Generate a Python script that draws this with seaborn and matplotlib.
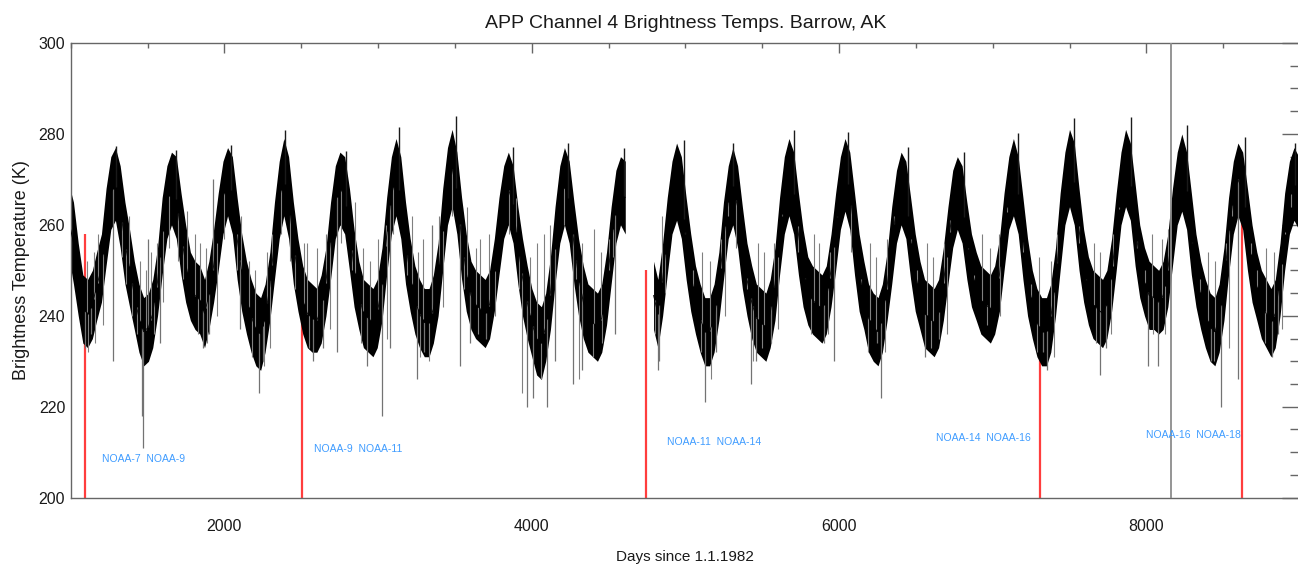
import numpy as np
import pandas as pd
import seaborn as sns
import matplotlib.pyplot as plt
from matplotlib.ticker import MultipleLocator

# monthly envelope of the dense daily Ch4 band, Sep 1984 .. Sep 2006
env_hi = [
    269, 265, 256, 249,                                          # 1984 Sep-Dec
    248, 250, 254, 258, 268, 275, 277, 273, 265, 259, 252, 247,  # 1985
    244, 245, 248, 255, 266, 273, 276, 275, 267, 260, 254, 252,  # 1986
    251, 248, 252, 259, 267, 274, 277, 275, 266, 258, 252, 248,  # 1987
    245, 244, 247, 254, 265, 274, 279, 275, 265, 257, 251, 248,  # 1988
    247, 246, 249, 255, 265, 273, 276, 275, 268, 259, 252, 248,  # 1989
    247, 246, 248, 255, 266, 275, 279, 275, 265, 257, 251, 248,  # 1990
    246, 246, 249, 256, 268, 277, 281, 276, 266, 258, 252, 250,  # 1991
    249, 248, 250, 257, 266, 273, 276, 273, 264, 257, 251, 246,  # 1992
    243, 242, 245, 253, 264, 273, 277, 274, 265, 257, 251, 247,  # 1993
    246, 245, 247, 254, 264, 272, 275, 274, np.nan, np.nan, np.nan, np.nan,  # 1994
    np.nan, 252, 248, 256, 266, 274, 278, 275, 266, 258, 251, 247,  # 1995
    244, 244, 247, 254, 265, 273, 277, 273, 264, 256, 251, 247,  # 1996
    246, 245, 248, 255, 266, 275, 279, 276, 267, 259, 253, 251,  # 1997
    250, 249, 251, 258, 267, 275, 279, 276, 267, 258, 252, 247,  # 1998
    245, 244, 247, 254, 264, 272, 276, 274, 266, 258, 252, 248,  # 1999
    247, 246, 248, 255, 264, 272, 275, 273, 265, 258, 254, 251,  # 2000
    250, 249, 251, 257, 267, 275, 279, 275, 266, 257, 250, 246,  # 2001
    244, 244, 247, 255, 267, 276, 281, 278, 268, 259, 253, 250,  # 2002
    249, 248, 250, 257, 267, 276, 281, 278, 269, 260, 255, 252,  # 2003
    251, 250, 252, 258, 268, 276, 280, 276, 267, 258, 252, 248,  # 2004
    245, 244, 247, 255, 266, 274, 278, 276, 268, 260, 254, 250,  # 2005
    248, 246, 248, 256, 267, 274, 277, 275, 268,                 # 2006 Jan-Sep
]
env_lo = [
    253, 247, 240, 234,
    233, 235, 239, 243, 251, 259, 261, 255, 247, 242, 237, 232,
    229, 230, 233, 240, 249, 257, 260, 257, 249, 243, 239, 237,
    236, 233, 237, 243, 250, 258, 262, 258, 248, 241, 236, 232,
    229, 228, 232, 239, 248, 257, 262, 257, 247, 241, 236, 233,
    232, 232, 234, 240, 248, 257, 260, 258, 250, 242, 237, 233,
    232, 231, 233, 239, 249, 258, 262, 257, 247, 241, 236, 233,
    231, 231, 234, 240, 250, 260, 264, 258, 248, 241, 237, 235,
    234, 233, 235, 241, 249, 257, 260, 256, 247, 240, 235, 231,
    227, 226, 230, 237, 247, 256, 260, 256, 247, 240, 235, 232,
    231, 230, 232, 238, 247, 256, 260, 258, np.nan, np.nan, np.nan, np.nan,
    np.nan, 237, 233, 240, 249, 258, 261, 257, 248, 241, 236, 232,
    229, 229, 232, 239, 248, 257, 260, 255, 246, 240, 235, 232,
    231, 230, 233, 239, 249, 258, 262, 258, 249, 242, 238, 236,
    235, 234, 236, 242, 250, 259, 263, 259, 249, 241, 237, 232,
    230, 229, 232, 239, 247, 256, 260, 257, 248, 241, 237, 233,
    232, 231, 233, 239, 247, 255, 259, 256, 248, 242, 239, 236,
    235, 234, 236, 241, 250, 259, 262, 258, 248, 240, 235, 231,
    229, 229, 232, 240, 250, 260, 264, 260, 250, 243, 238, 235,
    234, 233, 235, 241, 250, 260, 264, 261, 251, 244, 240, 237,
    237, 236, 237, 242, 251, 260, 263, 259, 249, 242, 237, 233,
    230, 229, 232, 239, 249, 258, 262, 259, 250, 243, 239, 235,
    233, 231, 233, 240, 250, 258, 261, 259, 250,
]

# strong cold / warm outliers (day, K)
spike_day = [1090, 1130, 1275, 1466, 1472, 1504, 1581, 1862, 1900, 1926, 2102, 2226,
             2250, 2578, 2640, 2734, 2929, 3026, 3080, 3253, 3300, 3351, 3534, 3600,
             3700, 3969, 4008, 4098, 4150, 4268, 4326, 4541, 4821, 4829, 5127, 5200,
             5426, 5460, 5560, 5900, 5966, 6250, 6271, 6559, 6650, 7330, 7352, 7697,
             7740, 8010, 8075, 8420, 8486, 8596, 8815, 8860]
spike_temp = [233, 236, 230, 218, 211, 257, 234, 233, 236, 270, 237, 223,
              230, 230, 233, 232, 229, 218, 233, 226, 232, 260, 229, 234,
              235, 220, 222, 220, 230, 225, 228, 236, 228, 230, 221, 232,
              225, 230, 234, 234, 230, 234, 222, 231, 235, 232, 228, 227,
              233, 229, 229, 230, 220, 226, 231, 236]

# smaller day-to-day excursions around the seasonal band (day, K)
noise_day = [1105, 1110, 1150, 1160, 1175, 1210, 1335, 1360, 1380, 1400,
             1430, 1450, 1490, 1520, 1545, 1560, 1600, 1640, 1700, 1730, 1760,
             1810, 1830, 1840, 1880, 1890, 1950, 2000, 2080, 2110,
             2160, 2180, 2200, 2260, 2280, 2300, 2310, 2370, 2430, 2460,
             2520, 2540, 2550, 2600, 2660, 2690, 2760, 2830, 2850,
             2890, 2900, 2950, 3000, 3050, 3060, 3100, 3190, 3220,
             3260, 3270, 3290, 3330, 3400, 3420, 3480, 3560, 3580,
             3640, 3650, 3664, 3720, 3760, 3850, 3900, 3920,
             3936, 3990, 4034, 4060, 4080, 4120, 4210, 4290,
             4311, 4330, 4398, 4405, 4450, 4460, 4500, 4530,
             4800, 4850, 4870, 5000, 5050,
             5100, 5110, 5160, 5170, 5230, 5260, 5280, 5330, 5400,
             5440, 5470, 5500, 5510, 5580, 5600, 5630, 5730, 5780,
             5820, 5840, 5870, 5930, 5940, 5990, 6080, 6140,
             6190, 6200, 6240, 6300, 6310, 6360, 6470, 6510,
             6570, 6600, 6610, 6680, 6700, 6720, 6840, 6880,
             6930, 6960, 6980, 7040, 7050, 7090, 7200, 7250,
             7290, 7300, 7380, 7400, 7420, 7450, 7560, 7610,
             7660, 7670, 7700, 7770, 7780, 7820, 7940, 7990,
             8040, 8045, 8100, 8120, 8140, 8190, 8300, 8350,
             8400, 8440, 8450, 8520, 8540, 8560, 8680, 8720,
             8770, 8780, 8830, 8880, 8900, 8940]
noise_temp = [252, 232, 254, 234, 258, 238, 253, 247, 262, 240,
              236, 252, 250, 254, 236, 256, 243, 255, 252, 248, 263,
              258, 236, 256, 255, 234, 240, 257, 250, 262,
              252, 231, 250, 229, 254, 233, 258, 258, 252, 246,
              256, 256, 233, 255, 258, 237, 256, 250, 265,
              234, 255, 252, 257, 260, 235, 258, 249, 262,
              254, 231, 257, 230, 262, 242, 262, 246, 264,
              255, 236, 257, 258, 240, 258, 266, 246,
              223, 253, 256, 226, 258, 260, 260, 248,
              226, 256, 231, 259, 254, 234, 257, 253,
              236, 262, 245, 258, 250,
              232, 254, 252, 226, 257, 240, 262, 255, 246,
              230, 256, 233, 254, 256, 237, 262, 254, 248,
              236, 258, 256, 236, 254, 262, 254, 247,
              232, 256, 253, 232, 257, 262, 257, 250,
              256, 233, 253, 256, 236, 261, 255, 249,
              258, 238, 255, 258, 240, 264, 254, 247,
              232, 253, 252, 231, 258, 262, 256, 248,
              256, 234, 254, 236, 258, 264, 255, 250,
              258, 236, 257, 236, 259, 265, 256, 248,
              254, 230, 252, 256, 233, 262, 256, 250,
              234, 255, 254, 237, 258, 264]

# summer maxima
peak_day = [1295, 1688, 2040, 2397, 2793, 3137, 3507, 3878, 4236, 4601, 4990, 5309,
            5706, 6057, 6448, 6812, 7164, 7528, 7899, 8262, 8640, 8966]
peak_temp = [277.4, 276.5, 277.6, 280.9, 276.3, 281.5, 284.0, 277.2, 278.0, 276.9, 278.7, 278.0,
             280.9, 280.5, 277.2, 276.0, 280.2, 283.5, 283.7, 282.0, 279.4, 278.0]

# satellite changes
switch_day = [1093, 2505, 4743, 7310, 8625]
switch_top = [258, 246, 250, 240, 266]
switch_text = ["NOAA-7  NOAA-9", "NOAA-9  NOAA-11", "NOAA-11  NOAA-14",
               "NOAA-14  NOAA-16", "NOAA-16  NOAA-18"]
text_day = [1204, 2583, 4880, 6629, 7996]
text_temp = [208.5, 210.7, 212.2, 213.1, 213.8]
marker_day = 8159

months = pd.date_range("1984-09-01", "2006-09-01", freq="MS") + pd.Timedelta(days=14)
days = np.asarray((months - pd.Timestamp("1982-01-01")).days, dtype=float)
hi = np.array(env_hi, dtype=float)
lo = np.array(env_lo, dtype=float)
seg = np.cumsum(np.isnan(hi))

df = pd.DataFrame({"day": np.r_[days, days], "temp": np.r_[hi, lo], "seg": np.r_[seg, seg]})
df = df.dropna()

sns.set_style("white")
plt.rcParams["font.family"] = ["Liberation Sans", "DejaVu Sans"]
plt.rcParams["text.color"] = "0.1"
plt.rcParams["axes.labelcolor"] = "0.1"
plt.rcParams["xtick.labelcolor"] = "0.1"
plt.rcParams["ytick.labelcolor"] = "0.1"

fig = plt.figure(figsize=(12.98, 5.65), dpi=100)
ax = fig.add_axes([70.7 / 1298, 67.3 / 565, (1300 - 70.7) / 1298, (497.7 - 43) / 565])

ax.vlines(switch_day, 200, switch_top, color="#ff3d3d", lw=1.6, zorder=1)

ok = ~np.isnan(hi)
center = (hi[ok] + lo[ok]) / 2

# gray excursions first, so the dense band sits on top of them
base = np.interp(noise_day, days[ok], center)
ax.vlines(noise_day, base, noise_temp, color="0.5", lw=0.8, zorder=2)
base = np.interp(spike_day, days[ok], center)
ax.vlines(spike_day, base, spike_temp, color="0.45", lw=0.9, zorder=2)

for s, d in df.groupby("seg"):
    sns.lineplot(data=d, x="day", y="temp", errorbar=("pi", 100), color="black",
                 lw=0.6, err_kws={"alpha": 1, "lw": 0}, ax=ax, zorder=3)

base = np.interp(peak_day, days[ok], center)
ax.vlines(peak_day, base, peak_temp, color="0.1", lw=1.0, zorder=3)

ax.axvline(marker_day, color="0.55", lw=1.3, zorder=4)

for t, x, y in zip(switch_text, text_day, text_temp):
    ax.text(x, y, t, color="#3f9cff", fontsize=7.5, ha="left", va="center", zorder=5)

ax.set_xlim(1000, 9000)
ax.set_ylim(200, 300)
ax.xaxis.set_major_locator(MultipleLocator(2000))
ax.xaxis.set_minor_locator(MultipleLocator(500))
ax.yaxis.set_major_locator(MultipleLocator(20))
ax.yaxis.set_minor_locator(MultipleLocator(5))
ax.tick_params(which="both", direction="in", top=True, right=True, color="0.4",
               width=1, labelsize=11.5)
ax.tick_params(axis="x", which="major", length=7, pad=15)
ax.tick_params(axis="x", which="minor", length=3.5)
ax.tick_params(axis="y", which="major", length=13, pad=4)
ax.tick_params(axis="y", which="minor", length=7)
for sp in ax.spines.values():
    sp.set_color("0.4")
    sp.set_linewidth(1)

ylabs = ax.get_yticklabels()
ylabs[0].set_va("bottom")
ylabs[-1].set_va("top")

ax.set_xlabel("Days since 1.1.1982", fontsize=11, labelpad=12)
ax.set_ylabel("Brightness Temperature (K)", fontsize=13, labelpad=6)
ax.set_title("APP Channel 4 Brightness Temps. Barrow, AK", fontsize=14, pad=11)

plt.savefig("out.png", dpi=100)
